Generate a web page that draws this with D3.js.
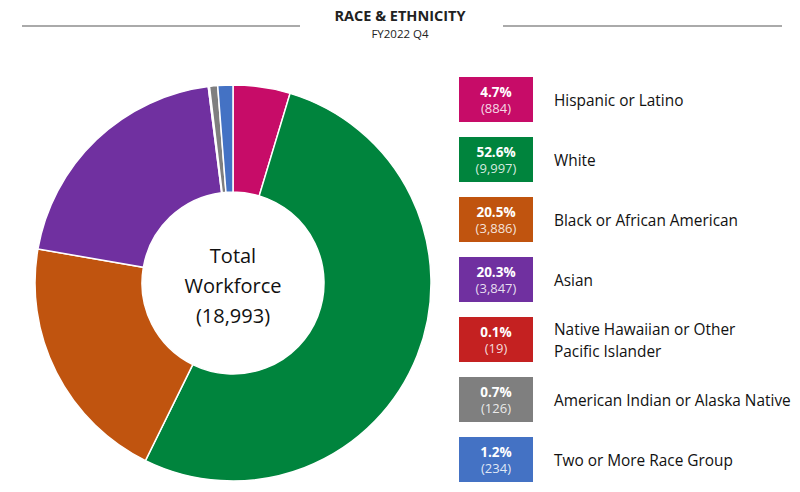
<!DOCTYPE html>
<html><head><meta charset="utf-8">
<script src="https://cdn.jsdelivr.net/npm/d3@7"></script>
<style>body{margin:0;background:#fff;}svg{display:block;font-family:"Open Sans","Noto Sans",sans-serif;}</style>
</head><body>
<svg id="chart" width="800" height="492"></svg>
<script>
const categories = ["Hispanic or Latino","White","Black or African American","Asian","Native Hawaiian or Other Pacific Islander","American Indian or Alaska Native","Two or More Race Group"];
const labelLines = [["Hispanic or Latino"],["White"],["Black or African American"],["Asian"],["Native Hawaiian or Other","Pacific Islander"],["American Indian or Alaska Native"],["Two or More Race Group"]];
const counts = [884, 9997, 3886, 3847, 19, 126, 234];
const percents = ["4.7%","52.6%","20.5%","20.3%","0.1%","0.7%","1.2%"];
const colors = ["#C70C68","#00843D","#C0540F","#7030A0","#C42121","#7F7F7F","#4472C4"];
const totalLabel = ["Total","Workforce","(18,993)"];

const svg = d3.select("#chart");
// Title
svg.append("text").attr("x",400).attr("y",21).attr("text-anchor","middle")
  .attr("font-size",14.5).attr("font-weight","bold").attr("fill","#222").text("RACE & ETHNICITY");
svg.append("text").attr("x",400).attr("y",38).attr("text-anchor","middle")
  .attr("font-size",11.5).attr("fill","#222").text("FY2022 Q4");
svg.append("line").attr("x1",22).attr("x2",300).attr("y1",26).attr("y2",26).attr("stroke","#aaa").attr("stroke-width",2);
svg.append("line").attr("x1",503).attr("x2",782).attr("y1",26).attr("y2",26).attr("stroke","#aaa").attr("stroke-width",2);

// Donut
const cx = 233, cy = 283, rOuter = 198, rInner = 91;
const pie = d3.pie().sort(null).value(d => d.v);
const data = categories.map((c,i)=>({c, v:counts[i], i}));
const arc = d3.arc().innerRadius(rInner).outerRadius(rOuter);
const g = svg.append("g").attr("transform",`translate(${cx},${cy})`);
g.selectAll("path").data(pie(data)).join("path")
  .attr("d",arc).attr("fill",d=>colors[d.data.i])
  .attr("stroke","#fff").attr("stroke-width",1.5);

const ct = g.append("text").attr("text-anchor","middle").attr("fill","#111").attr("font-size",20);
totalLabel.forEach((t,k)=>ct.append("tspan").attr("x",0).attr("y",-20+k*30).text(t));

// Legend
const y = d3.scalePoint().domain(categories).range([77,437]);
const lg = svg.append("g");
const items = lg.selectAll("g").data(data).join("g").attr("transform",d=>`translate(459,${y(d.c)})`);
items.append("rect").attr("width",74).attr("height",45).attr("fill",d=>colors[d.i]);
items.append("text").attr("x",37).attr("y",19.5).attr("text-anchor","middle").attr("fill","#fff")
  .attr("font-size",13.5).attr("font-weight","bold").text(d=>percents[d.i]);
items.append("text").attr("x",37).attr("y",36).attr("text-anchor","middle").attr("fill","#fff")
  .attr("fill-opacity",0.85).attr("font-size",13).text(d=>"(" + d3.format(",")(d.v) + ")");
items.each(function(d){
  const lines = labelLines[d.i];
  const t = d3.select(this).append("text").attr("x",95).attr("fill","#111").attr("font-size",15.4);
  const start = 22.5 - (lines.length-1)*11 + 6;
  lines.forEach((l,k)=>t.append("tspan").attr("x",95).attr("y",start+k*22).text(l));
});
</script>
</body></html>
